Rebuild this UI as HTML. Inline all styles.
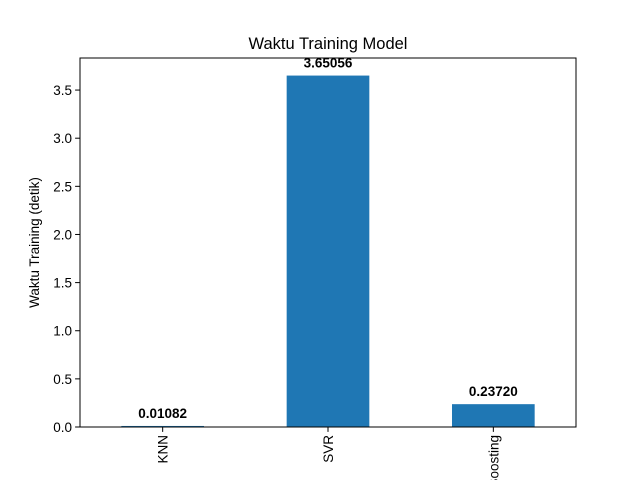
<!DOCTYPE html>
<html><head><meta charset="utf-8"><style>html,body{margin:0;background:#fff;width:640px;height:480px;overflow:hidden}svg{display:block;overflow:hidden;font-family:"Liberation Sans","DejaVu Sans",sans-serif}</style></head>
<body>
<svg id="chart" width="640" height="480" viewBox="0 0 640 480">
<rect width="640" height="480" fill="#fff"/>
<text x="328" y="49" text-anchor="middle" font-size="16.5" fill="#000">Waktu Training Model</text>
<text transform="translate(39,242.5) rotate(-90)" text-anchor="middle" font-size="13.5" fill="#000">Waktu Training (detik)</text>
<g id="bars"></g><g id="yticks"></g><g id="xticks"></g>
<rect x="80" y="58" width="496" height="369" fill="none" stroke="#000" stroke-width="1"/>
</svg>
<script>
const categories = ["KNN", "SVR", "Gradient Boosting"];
const values = [0.01082, 3.65056, 0.23720];
const valueLabels = ["0.01082", "3.65056", "0.23720"];
const yTicks = [0, 0.5, 1.0, 1.5, 2.0, 2.5, 3.0, 3.5];
const yTickLabels = ["0.0", "0.5", "1.0", "1.5", "2.0", "2.5", "3.0", "3.5"];

const NS = "http://www.w3.org/2000/svg";
const L = 80, R = 576, T = 58, B = 427;
const yMax = Math.max(...values) * 1.05;
const y = v => B - v / yMax * (B - T);
const x = i => L + (i + 0.5) / categories.length * (R - L);
const bw = 0.5 / categories.length * (R - L);
function mk(tag, attrs, parent, text) {
  const e = document.createElementNS(NS, tag);
  for (const k in attrs) e.setAttribute(k, attrs[k]);
  if (text !== undefined) e.textContent = text;
  parent.appendChild(e); return e;
}
const gb = document.getElementById("bars"), gy = document.getElementById("yticks"), gx = document.getElementById("xticks");
values.forEach((v, i) => {
  const r = mk("rect", {x: x(i) - bw / 2, y: y(v), width: bw, height: B - y(v), fill: "#1f77b4"}, gb);
  
  
  const t = mk("text", {x: x(i), y: y(v) - 8, "text-anchor": "middle", "font-size": "13.5", "font-weight": "bold"}, gb, valueLabels[i]);
  
  
  mk("line", {x1: x(i), x2: x(i), y1: B, y2: B + 4.9, stroke: "#000"}, gx);
  const xl = mk("text", {transform: `translate(${x(i) + 5},${B + 8}) rotate(-90)`, "text-anchor": "end", "font-size": "13.5"}, gx, categories[i]);
  
  
});
yTicks.forEach((v, i) => {
  mk("line", {x1: L - 4.9, x2: L, y1: y(v), y2: y(v), stroke: "#000"}, gy);
  const t = mk("text", {x: L - 8, y: y(v) + 5, "text-anchor": "end", "font-size": "13.5"}, gy, yTickLabels[i]);
  
  
});
</script>
</body></html>
